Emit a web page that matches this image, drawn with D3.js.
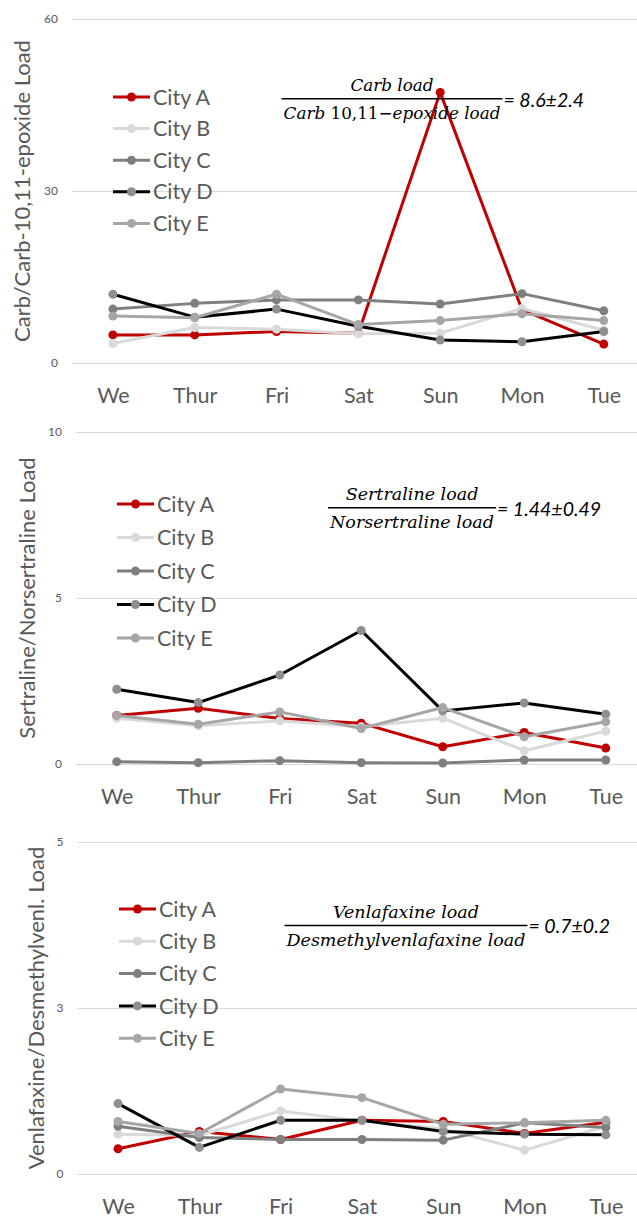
<!DOCTYPE html>
<html>
<head>
<meta charset="utf-8">
<script src="https://cdn.jsdelivr.net/npm/d3@7"></script>
<style>
  html, body { margin: 0; padding: 0; background: #ffffff; }
  svg { display: block; }
</style>
</head>
<body>
<svg id="chart" width="637" height="1218"></svg>
<script>
// Sampling days and cities
const days = ["We", "Thur", "Fri", "Sat", "Sun", "Mon", "Tue"];
const cities = ["City A", "City B", "City C", "City D", "City E"];

// Carbamazepine / carbamazepine-10,11-epoxide load ratio, one row per city
const carbValues = [
  [4.9, 4.9, 5.5, 5.2, 47.2, 9.3, 3.3],
  [3.4, 6.2, 5.9, 5.1, 5.2, 9.5, 5.7],
  [9.4, 10.4, 11.0, 11.0, 10.3, 12.1, 9.1],
  [12.0, 8.0, 9.4, 6.4, 4.0, 3.7, 5.5],
  [8.2, 7.9, 12.0, 6.7, 7.4, 8.6, 7.4]
];
const carbTicks = [0, 30, 60];
const carbTickLabels = ["0", "30", "60"];

// Sertraline / norsertraline load ratio
const sertralineValues = [
  [1.46, 1.68, 1.37, 1.23, 0.52, 0.95, 0.48],
  [1.38, 1.15, 1.30, 1.12, 1.38, 0.40, 0.99],
  [0.07, 0.04, 0.10, 0.04, 0.03, 0.12, 0.12],
  [2.25, 1.85, 2.68, 4.02, 1.60, 1.84, 1.50],
  [1.46, 1.20, 1.57, 1.07, 1.70, 0.82, 1.27]
];
const sertralineTicks = [0, 5, 10];
const sertralineTickLabels = ["0", "5", "10"];

// Venlafaxine / desmethylvenlafaxine load ratio
const venlafaxineValues = [
  [0.38, 0.64, 0.52, 0.81, 0.79, 0.61, 0.78],
  [0.60, 0.58, 0.95, 0.80, 0.68, 0.36, 0.72],
  [0.72, 0.55, 0.52, 0.52, 0.51, 0.77, 0.70],
  [1.06, 0.40, 0.81, 0.81, 0.64, 0.60, 0.59],
  [0.79, 0.61, 1.28, 1.15, 0.75, 0.77, 0.81]
];
const venlafaxineTicks = [0, 2.5, 5];
const venlafaxineTickLabels = ["0", "3", "5"];

// Axis titles
const axisTitles = [
  "Carb/Carb-10,11-epoxide Load",
  "Sertraline/Norsertraline Load",
  "Venlafaxine/Desmethylvenl. Load"
];

// Ratio equations shown in each panel: numerator parts, denominator parts, result
// each part is [text, italic?]
const eqNumerators = [
  [["Carb load", true]],
  [["Sertraline load", true]],
  [["Venlafaxine load", true]]
];
const eqDenominators = [
  [["Carb ", true], ["10,11\u2212", false], ["epoxide load", true]],
  [["Norsertraline load", true]],
  [["Desmethylvenlafaxine load", true]]
];
const eqResults = ["= 8.6\u00b12.4", "= 1.44\u00b10.49", "= 0.7\u00b10.2"];

// Series styling: line colour and marker colour
const lineColors = ["#c00000", "#d9d9d9", "#7f7f7f", "#000000", "#a6a6a6"];
const markerColors = ["#c00000", "#d9d9d9", "#7f7f7f", "#8f8f8f", "#a6a6a6"];

const textGray = "#595959";
const gridGray = "#d9d9d9";
const sansFont = "Lato, 'Open Sans', sans-serif";
const mathFont = "'DejaVu Serif', 'Liberation Serif', serif";

const svg = d3.select("#chart");

// Panel layout
const panels = [
  {
    values: carbValues, ticks: carbTicks, tickLabels: carbTickLabels,
    top: 19, bottom: 363, left: 72, right: 644.7,
    titleX: 22, legendX: 113, legendY: 97, legendStep: 31.6,
    eqCx: 392, eqY: 98.7, mathSize: 16.8
  },
  {
    values: sertralineValues, ticks: sertralineTicks, tickLabels: sertralineTickLabels,
    top: 432, bottom: 764, left: 76, right: 646.5,
    titleX: 27, legendX: 117, legendY: 504, legendStep: 33.5,
    eqCx: 412, eqY: 507.7, mathSize: 17.5
  },
  {
    values: venlafaxineValues, ticks: venlafaxineTicks, tickLabels: venlafaxineTickLabels,
    top: 842, bottom: 1174, left: 77.4, right: 646.5,
    titleX: 36, legendX: 119, legendY: 909, legendStep: 32.3,
    eqCx: 406, eqY: 925.5, mathSize: 17.5
  }
];

panels.forEach((p, pi) => {
  const g = svg.append("g");
  const yMax = p.ticks[p.ticks.length - 1];

  const x = d3.scalePoint().domain(days).range([p.left, p.right]).padding(0.5);
  const y = d3.scaleLinear().domain([0, yMax]).range([p.bottom, p.top]);

  // Gridlines and value labels
  const yAxis = d3.axisLeft(y)
    .tickValues(p.ticks)
    .tickSize(-(p.right - p.left))
    .tickPadding(14)
    .tickFormat((d, i) => p.tickLabels[i]);
  const yg = g.append("g")
    .attr("transform", `translate(${p.left},0)`)
    .call(yAxis);
  yg.select(".domain").remove();
  yg.selectAll(".tick line").attr("stroke", gridGray).attr("stroke-width", 1);
  yg.selectAll(".tick text")
    .attr("fill", textGray)
    .style("font-family", sansFont)
    .style("font-size", "12px");

  // Category labels
  const xAxis = d3.axisBottom(x).tickSize(0).tickPadding(0);
  const xg = g.append("g")
    .attr("transform", `translate(0,${p.bottom})`)
    .call(xAxis);
  xg.select(".domain").remove();
  xg.selectAll(".tick text")
    .attr("y", 40)
    .attr("dy", null)
    .attr("fill", textGray)
    .style("font-family", sansFont)
    .style("font-size", "21.5px");

  // Vertical axis title
  g.append("text")
    .attr("transform", `translate(${p.titleX},${(p.top + p.bottom) / 2}) rotate(-90)`)
    .attr("text-anchor", "middle")
    .attr("dy", "0.36em")
    .attr("fill", textGray)
    .style("font-family", sansFont)
    .style("font-size", "22px")
    .text(axisTitles[pi]);

  // Series lines and markers, drawn in city order
  const line = d3.line()
    .x((d, i) => x(days[i]))
    .y(d => y(d));

  p.values.forEach((vals, si) => {
    const sg = g.append("g");
    sg.append("path")
      .datum(vals)
      .attr("d", line)
      .attr("fill", "none")
      .attr("stroke", lineColors[si])
      .attr("stroke-width", 3)
      .attr("stroke-linejoin", "round")
      .attr("stroke-linecap", "round");
    sg.selectAll("circle")
      .data(vals)
      .join("circle")
      .attr("cx", (d, i) => x(days[i]))
      .attr("cy", d => y(d))
      .attr("r", 4.5)
      .attr("fill", markerColors[si]);
  });

  // Legend
  const lg = g.append("g");
  cities.forEach((c, si) => {
    const ly = p.legendY + si * p.legendStep;
    lg.append("line")
      .attr("x1", p.legendX).attr("x2", p.legendX + 37)
      .attr("y1", ly).attr("y2", ly)
      .attr("stroke", lineColors[si])
      .attr("stroke-width", 3);
    lg.append("circle")
      .attr("cx", p.legendX + 18.5).attr("cy", ly)
      .attr("r", 4.5)
      .attr("fill", markerColors[si]);
    lg.append("text")
      .attr("x", p.legendX + 40)
      .attr("y", ly + 7.6)
      .attr("fill", textGray)
      .style("font-family", sansFont)
      .style("font-size", "21.5px")
      .text(c);
  });

  // Ratio equation
  const eg = g.append("g");
  const addParts = (parts, yPos) => {
    const t = eg.append("text")
      .attr("y", yPos)
      .attr("text-anchor", "middle")
      .attr("x", p.eqCx)
      .style("font-family", mathFont)
      .style("font-size", p.mathSize + "px")
      .attr("fill", "#000");
    parts.forEach(([txt, it]) => {
      t.append("tspan")
        .style("font-style", it ? "italic" : "normal")
        .text(txt);
    });
    return t;
  };
  const num = addParts(eqNumerators[pi], p.eqY - 7.5);
  const den = addParts(eqDenominators[pi], p.eqY + 20);
  const w = Math.max(num.node().getComputedTextLength(), den.node().getComputedTextLength()) + 4;
  eg.append("line")
    .attr("x1", p.eqCx - w / 2).attr("x2", p.eqCx + w / 2)
    .attr("y1", p.eqY).attr("y2", p.eqY)
    .attr("stroke", "#000").attr("stroke-width", 1.5);
  eg.append("text")
    .attr("x", p.eqCx + w / 2 + 1)
    .attr("y", p.eqY + 7.8)
    .attr("fill", "#000")
    .style("font-family", sansFont)
    .style("font-style", "italic")
    .style("font-size", "19.5px")
    .text(eqResults[pi]);
});
</script>
</body>
</html>
